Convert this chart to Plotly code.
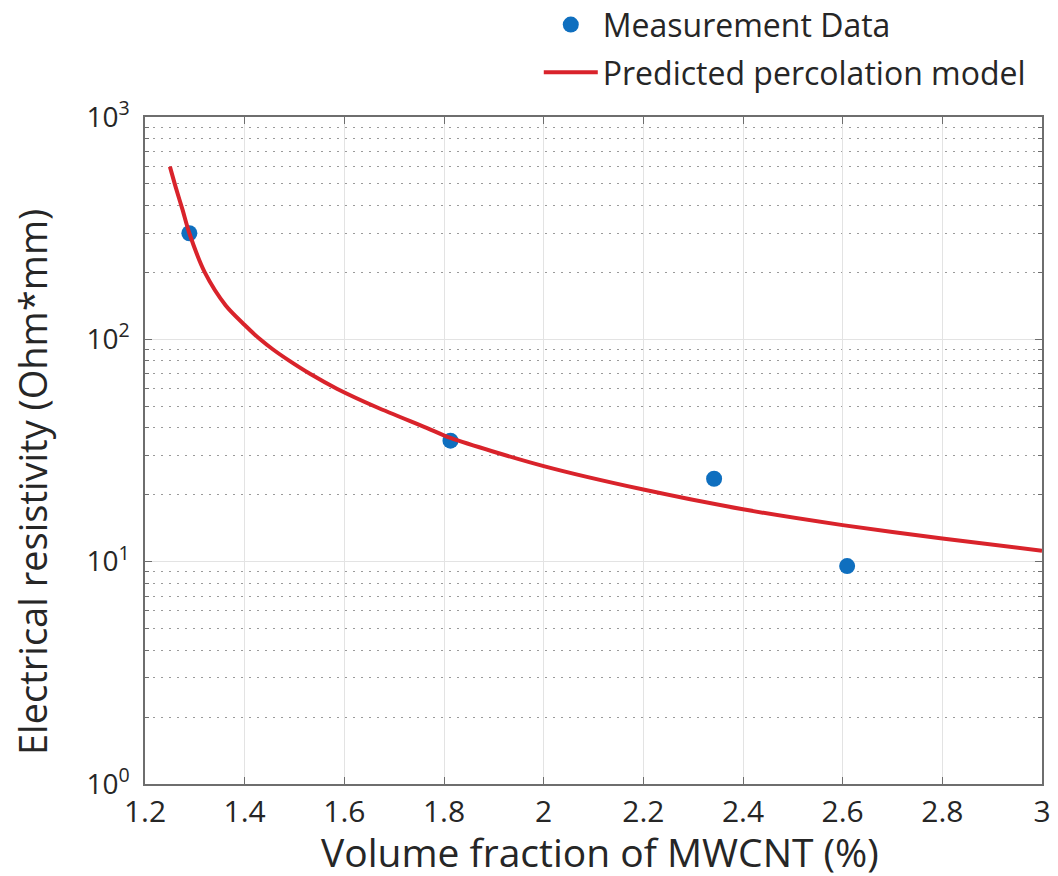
import plotly.graph_objects as go

# Measurement data
meas_x = [1.289, 1.813, 2.342, 2.609]
meas_y = [300, 35.0, 23.6, 9.55]

# Predicted percolation model
model_x = [1.250, 1.262, 1.275, 1.289, 1.320, 1.362, 1.400, 1.431, 1.457, 1.490,
           1.531, 1.585, 1.665, 1.765, 1.813, 2.0, 2.2, 2.4, 2.6, 2.8, 3.0]
model_y = [598, 480, 385, 300, 200, 142, 116, 100, 90, 80,
           70, 60, 49.5, 40, 36, 26.9, 21.1, 17.2, 14.6, 12.7, 11.2]

x_ticks = [1.2, 1.4, 1.6, 1.8, 2.0, 2.2, 2.4, 2.6, 2.8, 3.0]
x_tick_labels = ["1.2", "1.4", "1.6", "1.8", "2", "2.2", "2.4", "2.6", "2.8", "3"]
y_ticks = [1, 10, 100, 1000]
y_tick_labels = ["10<sup>0</sup>", "10<sup>1</sup>", "10<sup>2</sup>", "10<sup>3</sup>"]

x_title = "Volume fraction of MWCNT (%)"
y_title = "Electrical resistivity (Ohm*mm)"

FONT = "Open Sans"
TXT = "#262626"
AX = "#6e6e6e"

fig = go.Figure()
fig.add_trace(go.Scatter(
    x=meas_x, y=meas_y, mode="markers", name="Measurement Data",
    legendgroup="a",
    marker=dict(color="#0f6fbf", size=16, line=dict(width=0)),
))
fig.add_trace(go.Scatter(
    x=model_x, y=model_y, mode="lines", name="Predicted percolation model",
    legendgroup="b",
    line=dict(color="#d9232b", width=4, shape="spline", smoothing=0.8),
))

fig.update_layout(
    width=1058, height=876,
    margin=dict(l=145, r=16, t=117, b=92, autoexpand=False),
    paper_bgcolor="white", plot_bgcolor="white",
    font=dict(family=FONT, color=TXT),
    showlegend=True,
    legend=dict(
        x=0.4390, y=1.1795, xanchor="left", yanchor="top",
        font=dict(size=32, family=FONT, color=TXT),
        bgcolor="rgba(0,0,0,0)", borderwidth=0,
        itemwidth=54, tracegroupgap=3,
    ),
    xaxis=dict(
        range=[1.2, 3.0],
        tickvals=x_ticks, ticktext=x_tick_labels,
        ticks="inside", ticklen=7, tickcolor=AX, tickwidth=1,
        showline=True, linecolor=AX, linewidth=1.5, mirror="ticks",
        showgrid=True, gridcolor="#e3e3e3", gridwidth=1,
        zeroline=False,
        tickfont=dict(size=30, family=FONT, color=TXT),
    ),
    yaxis=dict(
        type="log", range=[0, 3],
        tickvals=y_ticks, ticktext=y_tick_labels,
        ticks="inside", ticklen=7, tickcolor=AX, tickwidth=1,
        ticklabelstandoff=8,
        showline=True, linecolor=AX, linewidth=1.5, mirror="ticks",
        showgrid=True, gridcolor="#e3e3e3", gridwidth=1,
        zeroline=False,
        tickfont=dict(size=28, family=FONT, color=TXT),
        minor=dict(dtick="D1", showgrid=True, griddash="2px,6px",
                   gridcolor="#9a9a9a", gridwidth=1.2,
                   ticks="inside", ticklen=4, tickcolor=AX),
    ),
    annotations=[
        dict(text=x_title, xref="paper", yref="paper",
             x=(600 - 145) / 897, y=-(851 - 784) / 667,
             xanchor="center", yanchor="middle", showarrow=False,
             font=dict(size=39, family=FONT, color=TXT)),
        dict(text=y_title, xref="paper", yref="paper",
             x=-(145 - 32) / 897, y=(784 - 482) / 667,
             xanchor="center", yanchor="middle", showarrow=False,
             textangle=-90,
             font=dict(size=38, family=FONT, color=TXT)),
    ],
)

fig.write_html("out.html", config={"displayModeBar": False},
               post_script="document.body.style.margin='0px';")
